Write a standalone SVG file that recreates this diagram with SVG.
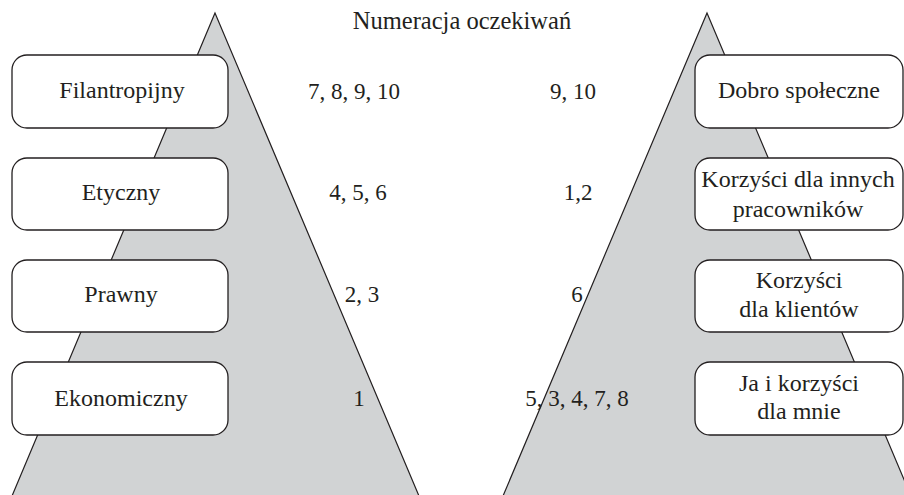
<svg xmlns="http://www.w3.org/2000/svg" width="904" height="495" viewBox="0 0 904 495">
<style>
.tri{fill:#d1d3d4;stroke:#231f20;stroke-width:1.2}
.box{fill:#fff;stroke:#231f20;stroke-width:1.3}
text{font-family:"Liberation Serif","DejaVu Serif",serif;font-size:24px;fill:#231f20;text-anchor:middle}
.title{font-size:24.5px}
.num{font-size:23px}
</style>
<rect width="904" height="495" fill="#fff"/>
<g id="pyramid-left"><polygon class="tri" points="215,13 12,496 419,496"/></g>
<g id="pyramid-right"><polygon class="tri" points="707,13 503,496 911,496"/></g>
<g id="connectors"></g>
<g id="title"><text class="title" x="462" y="29">Numeracja oczekiwań</text></g>
<g id="filantropijny"><rect class="box" x="12" y="55" width="216" height="73" rx="15"/><text x="122" y="98">Filantropijny</text></g>
<g id="etyczny"><rect class="box" x="12" y="158" width="216" height="72" rx="15"/><text x="121" y="200">Etyczny</text></g>
<g id="prawny"><rect class="box" x="12" y="260" width="216" height="72" rx="15"/><text x="121" y="302">Prawny</text></g>
<g id="ekonomiczny"><rect class="box" x="12" y="362" width="216" height="73" rx="15"/><text x="121" y="406">Ekonomiczny</text></g>
<g id="nums-left">
<text class="num" x="354" y="99">7, 8, 9, 10</text>
<text class="num" x="358" y="200">4, 5, 6</text>
<text class="num" x="362" y="302">2, 3</text>
<text class="num" x="359" y="406">1</text>
</g>
<g id="nums-right">
<text class="num" x="573" y="99">9, 10</text>
<text class="num" x="578" y="200">1,2</text>
<text class="num" x="577" y="302">6</text>
<text class="num" x="577" y="406">5, 3, 4, 7, 8</text>
</g>
<g id="dobro"><rect class="box" x="695" y="55" width="208" height="73" rx="15"/><text x="799" y="98">Dobro społeczne</text></g>
<g id="pracownicy"><rect class="box" x="695" y="158" width="208" height="72" rx="15"/><text x="798" y="187">Korzyści dla innych</text><text x="798" y="217">pracowników</text></g>
<g id="klienci"><rect class="box" x="695" y="260" width="208" height="72" rx="15"/><text x="799" y="288">Korzyści</text><text x="799" y="317">dla klientów</text></g>
<g id="ja"><rect class="box" x="695" y="362" width="208" height="73" rx="15"/><text x="799" y="391">Ja i korzyści</text><text x="799" y="419">dla mnie</text></g>
</svg>
